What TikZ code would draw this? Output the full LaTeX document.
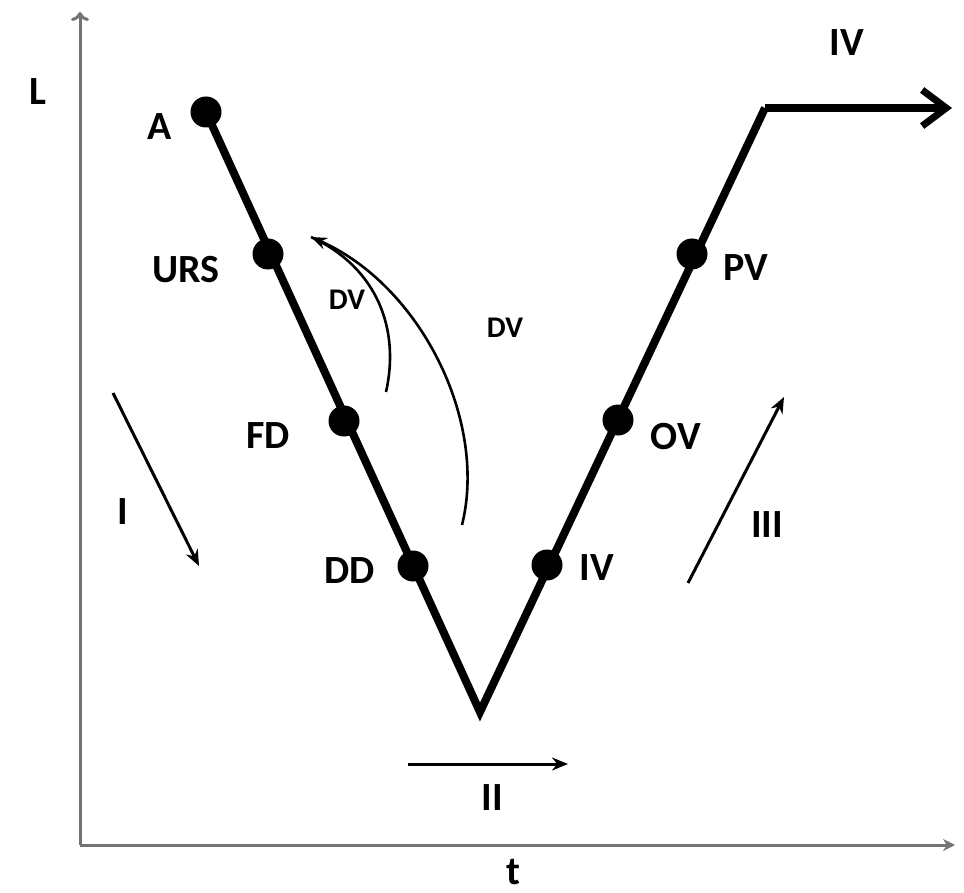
\documentclass[tikz,border=0pt]{standalone}
\usepackage{fontspec}
\setmainfont{Carlito}
\usetikzlibrary{arrows.meta}

\tikzset{
  dot/.style={circle, fill=black, inner sep=0pt, minimum size=31pt},
  lbl/.style={font=\fontsize{40}{44}\selectfont\bfseries, inner sep=0pt},
  smalllbl/.style={font=\fontsize{30}{34}\selectfont\bfseries, inner sep=0pt},
  axisline/.style={draw=black!55, line width=3pt},
  mainline/.style={line width=8pt, line join=miter},
  thinarrow/.style={line width=3pt, -{Stealth[length=16pt,width=13pt]}},
  arcline/.style={line width=2.6pt}
}

\begin{document}
\begin{tikzpicture}[x=1pt, y=-1pt]
  \useasboundingbox (0,0) rectangle (964,893);

  % axes
  \coordinate (O) at (80,845);
  \coordinate (ytop) at (80,12);
  \coordinate (xend) at (955,845);
  \draw[axisline, -{To[length=9pt,width=18pt]}] (O) -- (ytop);
  \draw[axisline, -{Stealth[length=12pt,width=12pt]}] (O) -- (xend);
  \node[lbl] (Lax) at (38,92) {L};
  \node[lbl, anchor=north] (tax) at (513,859) {t};

  % points on the curve
  \node[dot] (A) at (206,112) {};
  \node[dot] (URS) at (268,254) {};
  \node[dot] (FD) at (344,421) {};
  \node[dot] (DD) at (413,566) {};
  \coordinate (V) at (480,712);
  \node[dot] (IVm) at (547,565) {};
  \node[dot] (OV) at (618,420) {};
  \node[dot] (PV) at (692,254) {};
  \coordinate (K) at (765,108);
  \coordinate (E) at (952,108);

  \draw[mainline] (A.center) -- (V) -- (K);
  \draw[mainline, -{Straight Barb[length=24pt,width=36pt,line width=7pt]}] (K) -- (E);

  % point labels
  \node[lbl] at (160,127) {A};
  \node[lbl] at (186,270) {URS};
  \node[lbl] at (268,436) {FD};
  \node[lbl] at (350,571) {DD};
  \node[lbl] at (597,568) {IV};
  \node[lbl] at (676,437) {OV};
  \node[lbl] at (746,268) {PV};
  \node[lbl] at (847,43) {IV};

  % DV arcs
  \coordinate (dvtip) at (311,237);
  \coordinate (dvin) at (386,392);
  \coordinate (dvout) at (462,525);
  \draw[arcline] (dvin) .. controls (400,330) and (378,268) .. (dvtip);
  \draw[arcline, -{Stealth[length=16pt,width=12pt]}] (dvout) .. controls (488,420) and (420,285) .. (dvtip);
  \node[smalllbl] at (347,300) {DV};
  \node[smalllbl] at (505,328) {DV};

  % phase arrows
  \coordinate (I1) at (113,393);
  \coordinate (I2) at (199,566);
  \draw[thinarrow] (I1) -- (I2);
  \node[lbl] at (123,512) {I};

  \coordinate (II1) at (408,764);
  \coordinate (II2) at (568,764);
  \draw[thinarrow] (II1) -- (II2);
  \node[lbl] at (492,798) {II};

  \coordinate (III1) at (688,583);
  \coordinate (III2) at (784,397);
  \draw[thinarrow] (III1) -- (III2);
  \node[lbl] at (767,525) {III};
\end{tikzpicture}
\end{document}
